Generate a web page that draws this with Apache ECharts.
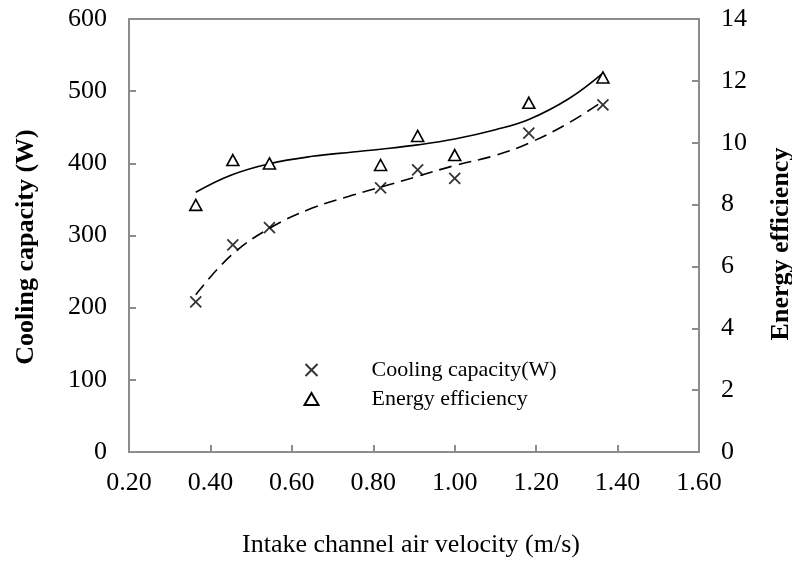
<!DOCTYPE html>
<html>
<head>
<meta charset="utf-8">
<script src="https://cdn.jsdelivr.net/npm/echarts@6/dist/echarts.min.js"></script>
<style>html,body{margin:0;padding:0;background:#fff;}#c{width:792px;height:570px;}</style>
</head>
<body>
<div id="c"></div>
<script>
// Measured data
var velocity = [0.364, 0.455, 0.545, 0.818, 0.909, 1.0, 1.182, 1.364];
var coolingCapacity = [208, 287, 311, 366, 391, 379, 442, 481];
var energyEfficiency = [7.99, 9.44, 9.33, 9.28, 10.22, 9.6, 11.29, 12.11];

// Trendlines
var trendX = [0.364, 0.45, 0.545, 0.65, 0.75, 0.818, 0.909, 1.0, 1.1, 1.182, 1.28, 1.364];
var coolingTrend = [218, 272, 310, 338, 356, 367, 382, 397, 411, 428, 456, 486];
var efficiencyTrend = [8.4, 8.95, 9.32, 9.56, 9.7, 9.79, 9.93, 10.12, 10.42, 10.75, 11.42, 12.25];

var xTicks = {min: 0.2, max: 1.6, interval: 0.2};
var leftTicks = {min: 0, max: 600, interval: 100};
var rightTicks = {min: 0, max: 14, interval: 2};

function pairs(xs, ys) { return xs.map(function (x, i) { return [x, ys[i]]; }); }

var FONT = 'Liberation Serif';
var AXIS_COLOR = '#8c8c8c';
var crossPath = 'path://M0,0L10,10M10,0L0,10';

var chart = echarts.init(document.getElementById('c'), null, {renderer: 'canvas'});
chart.setOption({
  animation: false,
  backgroundColor: '#fff',
  grid: {left: 129, right: 93, top: 19, bottom: 118, show: true, borderColor: AXIS_COLOR, borderWidth: 2, containLabel: false},
  legend: {
    orient: 'vertical',
    left: 298, top: 353,
    itemWidth: 14, itemHeight: 12, itemGap: 5,
    data: ['Cooling capacity(W)', 'Energy efficiency'],
    textStyle: {fontFamily: FONT, fontSize: 22, color: '#000', lineHeight: 24, padding: [0, 0, 0, 48]}
  },
  xAxis: {
    type: 'value', min: xTicks.min, max: xTicks.max, interval: xTicks.interval,
    axisLine: {lineStyle: {color: AXIS_COLOR, width: 2}},
    axisTick: {inside: true, length: 7, lineStyle: {color: AXIS_COLOR, width: 2}},
    splitLine: {show: false},
    axisLabel: {fontFamily: FONT, fontSize: 26, color: '#000', margin: 18,
      formatter: function (v) { return v.toFixed(2); }}
  },
  yAxis: [{
    type: 'value', min: leftTicks.min, max: leftTicks.max, interval: leftTicks.interval, position: 'left',
    axisLine: {show: true, lineStyle: {color: AXIS_COLOR, width: 2}},
    axisTick: {show: true, inside: true, length: 7, lineStyle: {color: AXIS_COLOR, width: 2}},
    splitLine: {show: false},
    axisLabel: {fontFamily: FONT, fontSize: 26, color: '#000', margin: 22}
  }, {
    type: 'value', min: rightTicks.min, max: rightTicks.max, interval: rightTicks.interval, position: 'right',
    axisLine: {show: true, lineStyle: {color: AXIS_COLOR, width: 2}},
    axisTick: {show: true, inside: true, length: 7, lineStyle: {color: AXIS_COLOR, width: 2}},
    splitLine: {show: false},
    axisLabel: {fontFamily: FONT, fontSize: 26, color: '#000', margin: 22}
  }],
  graphic: [
    {type: 'text', x: 26, y: 247, rotation: Math.PI / 2,
      style: {text: 'Cooling capacity (W)', font: 'bold 26px "Liberation Serif"', fill: '#000', align: 'center', verticalAlign: 'middle'}},
    {type: 'text', x: 781, y: 244, rotation: Math.PI / 2,
      style: {text: 'Energy efficiency', font: 'bold 26px "Liberation Serif"', fill: '#000', align: 'center', verticalAlign: 'middle'}},
    {type: 'text', x: 411, y: 545,
      style: {text: 'Intake channel air velocity (m/s)', font: '26px "Liberation Serif"', fill: '#000', align: 'center', verticalAlign: 'middle'}}
  ],
  series: [
    {name: 'Cooling capacity(W)', type: 'scatter', yAxisIndex: 0, symbol: crossPath, symbolSize: 11,
      itemStyle: {color: 'none', borderColor: '#000', borderWidth: 1.8}, data: pairs(velocity, coolingCapacity), z: 5},
    {name: 'Energy efficiency', type: 'scatter', yAxisIndex: 1, symbol: 'triangle', symbolSize: [12, 11],
      itemStyle: {color: '#fff', opacity: 1, borderColor: '#000', borderWidth: 1.6}, data: pairs(velocity, energyEfficiency), z: 5},
    {name: 'coolingTrend', type: 'line', yAxisIndex: 0, smooth: 0.4, showSymbol: false, symbol: 'none',
      lineStyle: {color: '#000', width: 1.6, type: [13, 7]}, data: pairs(trendX, coolingTrend), z: 3},
    {name: 'efficiencyTrend', type: 'line', yAxisIndex: 1, smooth: 0.4, showSymbol: false, symbol: 'none',
      lineStyle: {color: '#000', width: 1.6}, data: pairs(trendX, efficiencyTrend), z: 3}
  ]
});
</script>
</body>
</html>
